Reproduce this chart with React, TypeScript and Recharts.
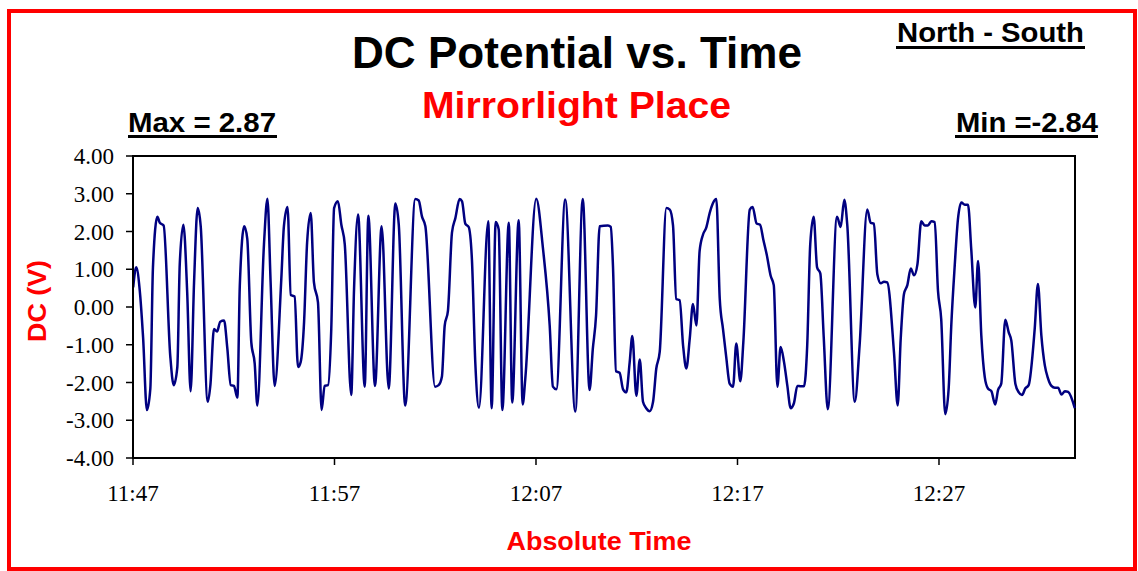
import React from "react";
import { LineChart, Line, XAxis, YAxis, ReferenceArea } from "recharts";

// minutes after 11:47
const minutes = [
  0.01, 0.16, 0.33, 0.5, 0.69, 0.86, 0.99, 1.21, 1.33, 1.52, 1.85, 2.02, 2.2, 2.32, 2.5, 2.69, 2.86, 3.03, 3.21, 3.36,
  3.71, 3.84, 4.02, 4.17, 4.33, 4.52, 4.68, 4.85, 5.01, 5.18, 5.3, 5.52, 5.67, 5.87, 6.04, 6.17, 6.5, 6.67, 6.83, 7.03,
  7.36, 7.49, 7.67, 7.83, 8.02, 8.19, 8.32, 8.49, 8.64, 8.82, 8.98, 9.18, 9.36, 9.51, 9.68, 9.84, 9.98, 10.17, 10.34, 10.51,
  10.83, 10.97, 11.17, 11.5, 11.68, 12.01, 12.34, 12.69, 13.02, 13.19, 13.51, 14.01, 14.18, 14.34, 14.51, 14.99, 15.17, 15.33, 15.47, 15.63,
  15.83, 16.0, 16.21, 16.33, 16.49, 16.66, 16.82, 16.99, 17.17, 17.63, 17.8, 18.0, 18.15, 18.33, 18.65, 18.82, 19.14, 19.34, 19.47, 20.01,
  20.35, 20.68, 20.84, 21.01, 21.45, 21.95, 22.32, 22.66, 22.82, 22.98, 23.16, 23.57, 23.71, 23.82, 23.97, 24.15, 24.32, 24.48, 24.65, 24.78,
  24.98, 25.15, 25.31, 25.47, 25.64, 25.81, 25.97, 26.14, 26.47, 26.64, 26.8, 26.96, 27.13, 27.3, 27.46, 27.63, 27.79, 27.96, 28.12, 28.29,
  28.45, 28.62, 28.78, 28.95, 29.12, 29.28, 29.44, 29.61, 29.78, 29.94, 30.14, 30.29, 30.61, 30.75, 30.95, 31.12, 31.28, 31.45, 31.65, 31.8,
  31.98, 32.14, 32.31, 32.47, 32.64, 32.8, 32.97, 33.14, 33.3, 33.46, 33.61, 33.78, 33.95, 34.11, 34.28, 34.48, 34.94, 35.12, 35.3, 35.45,
  35.82, 36.06, 36.44, 36.61, 36.77, 36.94, 37.11, 37.27, 37.43, 37.77, 37.95, 38.1, 38.26, 38.43, 38.6, 38.76, 38.93, 39.12, 39.29, 39.45,
  39.62, 39.79, 39.95, 40.11, 40.31, 40.48, 40.61, 40.78, 40.94, 41.11, 41.28, 41.44, 41.6, 41.8, 41.94, 42.1, 42.27, 42.43, 42.6, 42.79,
  42.93, 43.09, 43.29, 43.46, 43.59, 43.79, 43.96, 44.12, 44.28, 44.45, 44.75, 44.91, 45.08, 45.25, 45.41, 45.58, 45.75, 45.91, 46.08, 46.25,
  46.41, 46.74,
];

// DC potential (V)
const dcVolts = [
  0.52, 1.05, 0.47, -0.8, -2.73, -2.16, 1.05, 2.39, 2.23, 2.16, -1.3, -2.07, -1.59, 1.13, 2.18, 0.38, -2.23, 0.65, 2.62, 2.14,
  -2.51, -2.07, -0.58, -0.65, -0.39, -0.36, -1.09, -2.07, -2.09, -2.4, 0.56, 2.14, 1.81, -0.93, -1.5, -2.61, 1.66, 2.87, 0.65, -2.09,
  0.74, 2.14, 2.65, 0.32, 0.28, -1.59, -1.46, -0.4, 1.7, 2.49, 0.65, 0.12, -2.73, -2.09, -2.07, -0.58, 2.62, 2.8, 2.18, 1.66,
  -2.33, 0.47, 2.45, -2.11, 2.42, -2.09, 2.14, -2.16, 2.74, 2.18, -2.61, 2.86, 2.82, 2.4, 2.14, -2.11, -2.07, -1.85, -0.49, -0.1,
  1.97, 2.36, 2.86, 2.8, 2.21, 2.12, 1.26, -1.5, -2.67, 2.27, -2.68, 2.25, 2.05, -2.73, 2.23, -2.53, 2.3, -2.58, -1.89, 2.87,
  1.53, -0.49, -2.11, -2.18, 2.85, -2.77, 2.86, -2.2, -1.11, -0.23, 2.14, 2.16, 2.12, 1.09, -1.7, -1.74, -2.18, -2.26, -1.46, -0.77,
  -2.35, -1.39, -2.51, -2.68, -2.76, -2.51, -1.63, -1.19, 2.62, 2.58, 2.16, 0.21, 0.18, -1.02, -1.63, -0.84, 0.08, -0.49, 1.48, 1.92,
  2.1, 2.49, 2.75, 2.86, 0.21, -0.58, -1.32, -2.03, -2.11, -0.97, -1.97, -0.93, 2.58, 2.65, 2.21, 2.18, 1.79, 1.39, 0.82, 0.58,
  -2.11, -1.06, -1.46, -2.07, -2.68, -2.55, -2.09, -2.1, -2.1, -1.02, 1.66, 2.39, 1.05, 0.89, -0.8, -2.71, 2.39, 2.12, 2.84, 2.16,
  -2.51, -1.02, 2.58, 2.23, 2.21, 0.87, 0.63, 0.67, 0.65, -1.23, -2.61, -0.84, 0.34, 0.58, 1.02, 0.84, 1.13, 2.27, 2.16, 2.16,
  2.27, 2.25, 0.43, -0.32, -2.84, -2.16, -0.49, 1.09, 2.32, 2.77, 2.71, 2.71, 1.54, -0.01, 1.22, -0.75, -1.85, -2.16, -2.23, -2.58,
  -2.2, -2.03, -0.34, -0.67, -0.89, -2.03, -2.26, -2.33, -2.16, -2.07, -0.58, 0.61, -0.75, -1.54, -1.89, -2.09, -2.14, -2.14, -2.32, -2.23,
  -2.25, -2.68,
];

const timeTicks = [0, 10, 20, 30, 40];
const timeLabels = ["11:47", "11:57", "12:07", "12:17", "12:27"];
const voltTicks = [-4, -3, -2, -1, 0, 1, 2, 3, 4];

const data = minutes.map((t, i) => ({ t, v: dcVolts[i] }));

const sans = "'Liberation Sans', Arial, Helvetica, sans-serif";
const serif = "'Liberation Serif', 'Times New Roman', Times, serif";

export default function App() {
  return (
    <div style={{ position: "absolute", left: 0, top: 0, width: 1138, height: 571, background: "#fff" }}>
      <LineChart
        width={1138}
        height={571}
        data={data}
        margin={{ top: 156, right: 63, bottom: 53, left: 33 }}
      >
        <XAxis
          dataKey="t"
          type="number"
          domain={[0, 46.75]}
          ticks={timeTicks}
          tickFormatter={(m) => timeLabels[timeTicks.indexOf(m)] ?? ""}
          height={60}
          tickSize={7}
          tickMargin={20}
          axisLine={{ stroke: "#000", strokeWidth: 2 }}
          tickLine={{ stroke: "#000", strokeWidth: 1.5 }}
          tick={{ fill: "#000", fontSize: 23, fontFamily: serif }}
        />
        <YAxis
          type="number"
          domain={[-4, 4]}
          ticks={voltTicks}
          width={100}
          tickSize={7}
          tickMargin={12}
          tickFormatter={(v) => v.toFixed(2)}
          axisLine={{ stroke: "#000", strokeWidth: 2 }}
          tickLine={{ stroke: "#000", strokeWidth: 1.5 }}
          tick={{ fill: "#000", fontSize: 23, fontFamily: serif }}
        />
        <ReferenceArea x1={0} x2={46.75} y1={-4} y2={4} fill="none" stroke="#000" strokeWidth={2} />
        <Line
          dataKey="v"
          type="monotone"
          stroke="#000080"
          strokeWidth={2.5}
          dot={false}
          isAnimationActive={false}
        />
      </LineChart>

      <svg
        width={1138}
        height={571}
        style={{ position: "absolute", left: 0, top: 0, pointerEvents: "none" }}
      >
        <rect x={9} y={11} width={1126} height={558} fill="none" stroke="#ff0000" strokeWidth={4} />

        <text x={577} y={68} textAnchor="middle" fontFamily={sans} fontWeight="bold" fontSize={44} fill="#000"
          textLength={450} lengthAdjust="spacingAndGlyphs">
          DC Potential vs. Time
        </text>
        <text x={576.5} y={118} textAnchor="middle" fontFamily={sans} fontWeight="bold" fontSize={37} fill="#ff0000"
          textLength={309} lengthAdjust="spacingAndGlyphs">
          Mirrorlight Place
        </text>

        <text x={897} y={42} fontFamily={sans} fontWeight="bold" fontSize={28} fill="#000"
          textLength={187} lengthAdjust="spacingAndGlyphs">
          North - South
        </text>
        <line x1={896} x2={1085} y1={47.5} y2={47.5} stroke="#000" strokeWidth={3} />

        <text x={128} y={131.5} fontFamily={sans} fontWeight="bold" fontSize={28} fill="#000"
          textLength={148} lengthAdjust="spacingAndGlyphs">
          Max = 2.87
        </text>
        <line x1={128} x2={277} y1={136.5} y2={136.5} stroke="#000" strokeWidth={3} />

        <text x={956} y={132} fontFamily={sans} fontWeight="bold" fontSize={28} fill="#000"
          textLength={142} lengthAdjust="spacingAndGlyphs">
          Min =-2.84
        </text>
        <line x1={955} x2={1098} y1={136.5} y2={136.5} stroke="#000" strokeWidth={3} />

        <text
          x={0}
          y={0}
          transform="translate(46 301) rotate(-90)"
          textAnchor="middle"
          fontFamily={sans}
          fontWeight="bold"
          fontSize={26}
          fill="#ff0000"
          textLength={82}
          lengthAdjust="spacingAndGlyphs"
        >
          DC (V)
        </text>
        <text x={599} y={550} textAnchor="middle" fontFamily={sans} fontWeight="bold" fontSize={26} fill="#ff0000"
          textLength={185} lengthAdjust="spacingAndGlyphs">
          Absolute Time
        </text>
      </svg>
    </div>
  );
}
